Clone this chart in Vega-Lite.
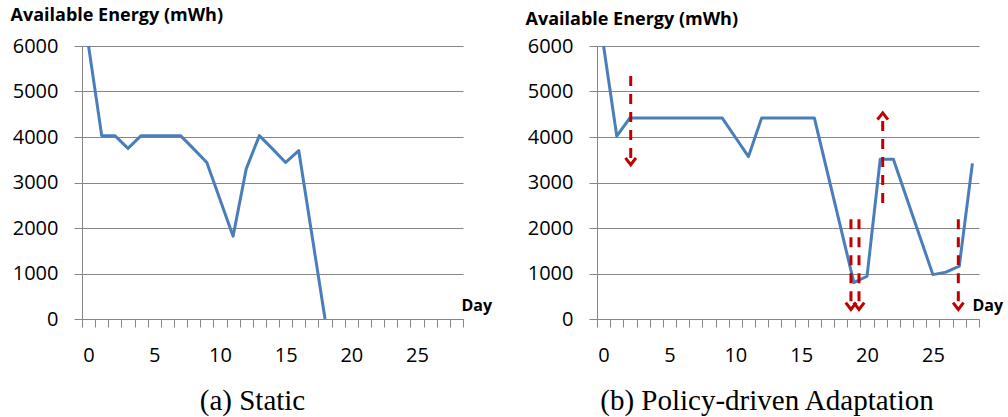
{
  "$schema": "https://vega.github.io/schema/vega-lite/v6.json",
  "autosize": {"type": "none"},
  "padding": {"left": 82, "top": 46, "right": 926, "bottom": 371},
  "background": "white",
  "spacing": 134,
  "bounds": "flush",
  "datasets": {
    "static": [
      {"day": 0, "energy": 6000}, {"day": 1, "energy": 4030}, {"day": 2, "energy": 4030},
      {"day": 3, "energy": 3750}, {"day": 4, "energy": 4030}, {"day": 5, "energy": 4030},
      {"day": 6, "energy": 4030}, {"day": 7, "energy": 4030}, {"day": 8, "energy": 3740},
      {"day": 9, "energy": 3440}, {"day": 10, "energy": 2630}, {"day": 11, "energy": 1820},
      {"day": 12, "energy": 3300}, {"day": 13, "energy": 4030}, {"day": 14, "energy": 3740},
      {"day": 15, "energy": 3440}, {"day": 16, "energy": 3700}, {"day": 17, "energy": 1850},
      {"day": 18, "energy": 0}
    ],
    "adaptive": [
      {"day": 0, "energy": 6000}, {"day": 1, "energy": 4020}, {"day": 2, "energy": 4420},
      {"day": 3, "energy": 4420}, {"day": 4, "energy": 4420}, {"day": 5, "energy": 4420},
      {"day": 6, "energy": 4420}, {"day": 7, "energy": 4420}, {"day": 8, "energy": 4420},
      {"day": 9, "energy": 4420}, {"day": 10, "energy": 3995}, {"day": 11, "energy": 3570},
      {"day": 12, "energy": 4420}, {"day": 13, "energy": 4420}, {"day": 14, "energy": 4420},
      {"day": 15, "energy": 4420}, {"day": 16, "energy": 4420}, {"day": 17, "energy": 3210},
      {"day": 18, "energy": 2010}, {"day": 19, "energy": 800}, {"day": 20, "energy": 940},
      {"day": 21, "energy": 3510}, {"day": 22, "energy": 3510}, {"day": 23, "energy": 2665},
      {"day": 24, "energy": 1820}, {"day": 25, "energy": 975}, {"day": 26, "energy": 1030},
      {"day": 27, "energy": 1160}, {"day": 28, "energy": 3420}
    ],
    "arrows": [
      {"day": 2.06, "start": 5340, "tip": 3390, "dir": "down"},
      {"day": 21.19, "start": 2550, "tip": 4530, "dir": "up"},
      {"day": 18.78, "start": 2190, "tip": 210, "dir": "down"},
      {"day": 19.39, "start": 2190, "tip": 210, "dir": "down"},
      {"day": 26.93, "start": 2190, "tip": 210, "dir": "down"}
    ]
  },
  "config": {
    "view": {"stroke": null},
    "axis": {
      "domainColor": "#868686", "tickColor": "#868686", "gridColor": "#868686",
      "domainWidth": 1, "tickWidth": 1, "gridWidth": 1, "tickSize": 8,
      "labelFont": "Open Sans", "labelFontSize": 20, "labelColor": "#000000",
      "titleFont": "Open Sans", "titleFontWeight": "bold", "titleColor": "#000000"
    },
    "title": {"font": "Liberation Serif", "fontSize": 29, "fontWeight": "normal", "color": "#000000"}
  },
  "hconcat": [
    {
      "width": 381, "height": 273,
      "title": {"text": "(a) Static", "orient": "bottom", "dx": -20, "offset": 22},
      "data": {"name": "static"},
      "mark": {"type": "line", "color": "#4A7EBB", "strokeWidth": 3, "strokeJoin": "round"},
      "encoding": {
        "x": {
          "field": "day", "type": "quantitative",
          "scale": {"domain": [-0.5, 28.5], "nice": false, "zero": false},
          "axis": {
            "values": [-0.5, 0.5, 1.5, 2.5, 3.5, 4.5, 5.5, 6.5, 7.5, 8.5, 9.5, 10.5, 11.5, 12.5, 13.5, 14.5, 15.5, 16.5, 17.5, 18.5, 19.5, 20.5, 21.5, 22.5, 23.5, 24.5, 25.5, 26.5, 27.5, 28.5],
            "labelExpr": "(datum.value + 0.5) % 5 == 0 && datum.value < 27 ? format(datum.value + 0.5, 'd') : ''",
            "labelOffset": 6.57, "labelPadding": 18, "labelOverlap": false, "labelFlush": false,
            "grid": false,
            "title": "Day", "titleFontSize": 16, "titleAngle": 0, "titleAlign": "left", "titleBaseline": "alphabetic",
            "titleX": 379, "titleY": -9
          }
        },
        "y": {
          "field": "energy", "type": "quantitative",
          "scale": {"domain": [0, 6000], "nice": false},
          "axis": {
            "values": [0, 1000, 2000, 3000, 4000, 5000, 6000], "format": "d",
            "grid": true, "labelPadding": 16,
            "title": "Available Energy (mWh)", "titleFontSize": 18, "titleAngle": 0,
            "titleAlign": "left", "titleBaseline": "alphabetic",
            "titleX": -72, "titleY": -26
          }
        }
      }
    },
    {
      "width": 382, "height": 273,
      "title": {"text": "(b) Policy-driven Adaptation", "orient": "bottom", "dx": -21, "offset": 22},
      "encoding": {
        "x": {
          "field": "day", "type": "quantitative",
          "scale": {"domain": [-0.5, 28.5], "nice": false, "zero": false},
          "axis": {
            "values": [-0.5, 0.5, 1.5, 2.5, 3.5, 4.5, 5.5, 6.5, 7.5, 8.5, 9.5, 10.5, 11.5, 12.5, 13.5, 14.5, 15.5, 16.5, 17.5, 18.5, 19.5, 20.5, 21.5, 22.5, 23.5, 24.5, 25.5, 26.5, 27.5, 28.5],
            "labelExpr": "(datum.value + 0.5) % 5 == 0 && datum.value < 27 ? format(datum.value + 0.5, 'd') : ''",
            "labelOffset": 6.59, "labelPadding": 18, "labelOverlap": false, "labelFlush": false,
            "grid": false,
            "title": "Day", "titleFontSize": 16, "titleAngle": 0, "titleAlign": "left", "titleBaseline": "alphabetic",
            "titleX": 375, "titleY": -9
          }
        }
      },
      "layer": [
        {
          "data": {"name": "adaptive"},
          "mark": {"type": "line", "color": "#4A7EBB", "strokeWidth": 3, "strokeJoin": "round"},
          "encoding": {
            "y": {
              "field": "energy", "type": "quantitative",
              "scale": {"domain": [0, 6000], "nice": false},
              "axis": {
                "values": [0, 1000, 2000, 3000, 4000, 5000, 6000], "format": "d",
                "grid": true, "labelPadding": 16,
                "title": "Available Energy (mWh)", "titleFontSize": 18, "titleAngle": 0,
                "titleAlign": "left", "titleBaseline": "alphabetic",
                "titleX": -72, "titleY": -22
              }
            }
          }
        },
        {
          "data": {"name": "arrows"},
          "mark": {"type": "rule", "color": "#C00000", "strokeWidth": 3, "strokeDash": [10, 8]},
          "encoding": {
            "y": {
              "field": "start", "type": "quantitative",
              "axis": {
                "values": [0, 1000, 2000, 3000, 4000, 5000, 6000], "format": "d",
                "grid": true, "labelPadding": 16,
                "title": "Available Energy (mWh)", "titleFontSize": 18, "titleAngle": 0,
                "titleAlign": "left", "titleBaseline": "alphabetic",
                "titleX": -72, "titleY": -22
              }
            },
            "y2": {"field": "tip"}
          }
        },
        {
          "data": {"name": "arrows"},
          "mark": {"type": "point", "filled": false, "stroke": "#C00000", "strokeWidth": 3, "opacity": 1, "size": 110},
          "encoding": {
            "y": {
              "field": "tip", "type": "quantitative",
              "axis": {
                "values": [0, 1000, 2000, 3000, 4000, 5000, 6000], "format": "d",
                "grid": true, "labelPadding": 16,
                "title": "Available Energy (mWh)", "titleFontSize": 18, "titleAngle": 0,
                "titleAlign": "left", "titleBaseline": "alphabetic",
                "titleX": -72, "titleY": -22
              }
            },
            "shape": {
              "field": "dir", "type": "nominal", "legend": null,
              "scale": {"domain": ["down", "up"], "range": ["M-1,-1.3L0,0L1,-1.3", "M-1,1.3L0,0L1,1.3"]}
            }
          }
        }
      ]
    }
  ]
}
